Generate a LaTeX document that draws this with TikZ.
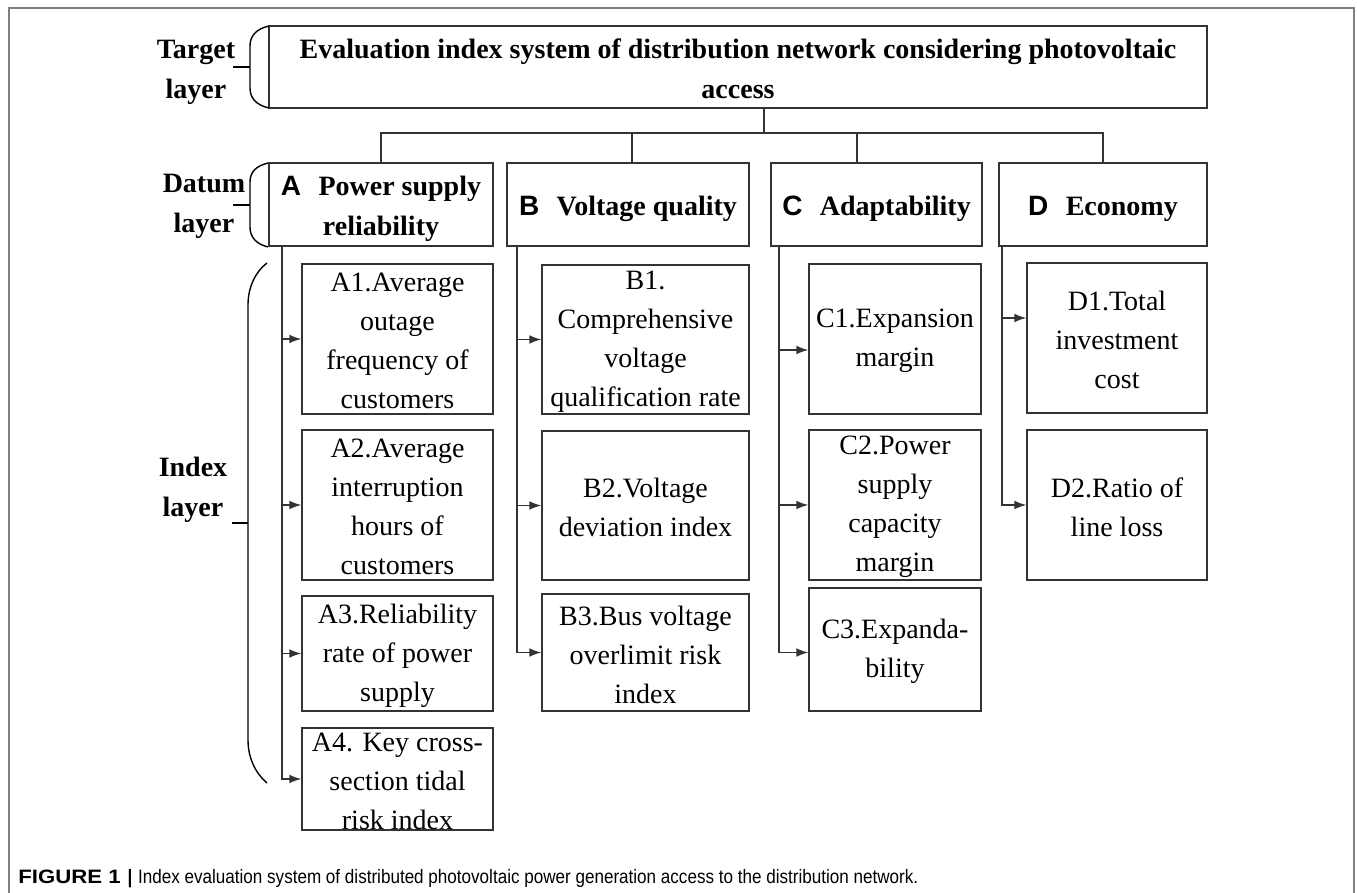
\documentclass[tikz,border=0pt]{standalone}
\usepackage{fontspec}
\usepackage{graphicx}
\setmainfont{Liberation Serif}
\newfontfamily\headsans{Liberation Sans}
\newfontfamily\capfont[FakeStretch=0.88]{Liberation Sans}
\usetikzlibrary{arrows.meta,fit,calc}
\newcommand\grpletter[1]{{\headsans\bfseries #1}\hspace{0.62em}}

\begin{document}
\begin{tikzpicture}[x=0.5pt,y=-0.5pt,
  frameline/.style={draw=black!50, line width=0.6pt},
  box/.style={draw=black!80, line width=0.7pt, inner sep=0pt, rectangle},
  boxtext/.style={align=center, font=\fontsize{14}{19.5}\selectfont, inner sep=0pt, yshift=-1pt},
  headtext/.style={align=center, font=\fontsize{14}{20}\selectfont\bfseries, inner sep=0pt},
  link/.style={draw=black!80, line width=0.7pt},
  feed/.style={link, -{Latex[length=6pt,width=4.4pt]}},
  brace/.style={draw=black, line width=0.7pt}
]
\useasboundingbox (0,0) rectangle (1357,893);

% outer frame (open at the bottom edge)
\draw[frameline] (9,893) -- (9,8) -- (1354,8) -- (1354,893);

% ---------- target layer ----------
\node[box, fit={(269,26) (1207,108)}] (t) {};
\node[headtext, yshift=-0.7pt] (tt) at (t.center) {Evaluation index system of distribution network considering photovoltaic\\access};

% ---------- datum layer ----------
\node[box, fit={(269,163) (493,246)}] (a) {};
\node[box, fit={(507,163) (749,246)}] (b) {};
\node[box, fit={(771,163) (982,246)}] (c) {};
\node[box, fit={(999,163) (1207,246)}] (d) {};
\node[headtext, yshift=-2pt] (at) at (a.center) {\grpletter{A}Power supply\\reliability};
\node[headtext, yshift=-2pt] (bt) at (b.center) {\grpletter{B}Voltage quality};
\node[headtext, yshift=-2pt] (ct) at (c.center) {\grpletter{C}Adaptability};
\node[headtext, yshift=-2pt] (dt) at (d.center) {\grpletter{D}Economy};

% ---------- index layer ----------
\node[box, fit={(302,264) (493,414)}] (a1) {};
\node[box, fit={(302,430) (493,580)}] (a2) {};
\node[box, fit={(302,596) (493,711)}] (a3) {};
\node[box, fit={(302,728) (493,830)}] (a4) {};
\node[box, fit={(542,265) (749,414)}] (b1) {};
\node[box, fit={(542,431) (749,580)}] (b2) {};
\node[box, fit={(542,594) (749,711)}] (b3) {};
\node[box, fit={(809,264) (981,414)}] (c1) {};
\node[box, fit={(809,430) (981,580)}] (c2) {};
\node[box, fit={(809,588) (981,711)}] (c3) {};
\node[box, fit={(1027,263) (1207,413)}] (d1) {};
\node[box, fit={(1027,430) (1207,580)}] (d2) {};

\node[boxtext] (a1t) at (a1.center) {A1.Average\\outage\\frequency of\\customers};
\node[boxtext] (a2t) at (a2.center) {A2.Average\\interruption\\hours of\\customers};
\node[boxtext] (a3t) at (a3.center) {A3.Reliability\\rate of power\\supply};
\node[boxtext] (a4t) at (a4.center) {A4. Key cross-\\section tidal\\risk index};
\node[boxtext] (b1t) at (b1.center) {B1.\\Comprehensive\\voltage\\qualification rate};
\node[boxtext] (b2t) at (b2.center) {B2.Voltage\\deviation index};
\node[boxtext] (b3t) at (b3.center) {B3.Bus voltage\\overlimit risk\\index};
\node[boxtext] (c1t) at (c1.center) {C1.Expansion\\margin};
\node[boxtext] (c2t) at (c2.center) {C2.Power\\supply\\capacity\\margin};
\node[boxtext] (c3t) at (c3.center) {C3.Expanda-\\bility};
\node[boxtext] (d1t) at (d1.center) {D1.Total\\investment\\cost};
\node[boxtext] (d2t) at (d2.center) {D2.Ratio of\\line loss};

% ---------- layer labels and braces ----------
\node[headtext] (lt) at (196,72) {Target\\layer};
\node[headtext] (ld) at (204,206) {Datum\\layer};
\node[headtext] (li) at (193,490) {Index\\layer};

\draw[brace] (269,26) .. controls (256,29) and (250,36) .. (250,46) -- (250,88)
  .. controls (250,98) and (256,105) .. (269,108);
\draw[brace] (233,67) -- (250,67);
\draw[brace] (268,163) .. controls (256,166) and (250,172) .. (250,182) -- (250,227)
  .. controls (250,237) and (256,244) .. (268,247);
\draw[brace] (233,205) -- (250,205);
\draw[brace] (267,263) .. controls (255,272) and (248,288) .. (248,305) -- (248,740)
  .. controls (248,757) and (255,773) .. (267,783);
\draw[brace] (232,523) -- (248,523);

% ---------- tree connectors ----------
\coordinate (tj) at (764,133);
\coordinate (bj) at (632,163);
\coordinate (cj) at (857,163);
\draw[link] (t.south -| tj) -- (tj);
\draw[link] (a.north) |- (d.north |- tj) -- (d.north);
\draw[link] (bj |- tj) -- (bj);
\draw[link] (cj |- tj) -- (cj);

% trunks running down each group
\coordinate (as) at (282,246);
\coordinate (bs) at (517,246);
\coordinate (cs) at (779,246);
\coordinate (ds) at (1002,246);
\draw[feed] (as) |- (a4.west);
\draw[feed] (as |- a1.west) -- (a1.west);
\draw[feed] (as |- a2.west) -- (a2.west);
\draw[feed] (as |- a3.west) -- (a3.west);
\draw[feed] (bs) |- (b3.west);
\draw[feed] (bs |- b1.west) -- (b1.west);
\draw[feed] (bs |- b2.west) -- (b2.west);
\draw[feed] (cs) |- ($(c3.west)+(0,3)$);
\draw[feed] (cs |- c1.west) ++(0,11) -- ($(c1.west)+(0,11)$);
\draw[feed] (cs |- c2.west) -- (c2.west);
\draw[feed] (ds) |- (d2.west);
\draw[feed] (ds |- d1.west) ++(0,-20) -- ($(d1.west)+(0,-20)$);

% ---------- caption ----------
\node[anchor=base west, inner sep=0pt, font=\capfont\fontsize{9.7}{11}\selectfont] (cap) at (18,883)
  {\scalebox{1.3}[1]{\bfseries FIGURE 1}\hspace{0.35em}{\bfseries|}\hspace{0.3em}Index evaluation system of distributed photovoltaic power generation access to the distribution network.};
\end{tikzpicture}
\end{document}
